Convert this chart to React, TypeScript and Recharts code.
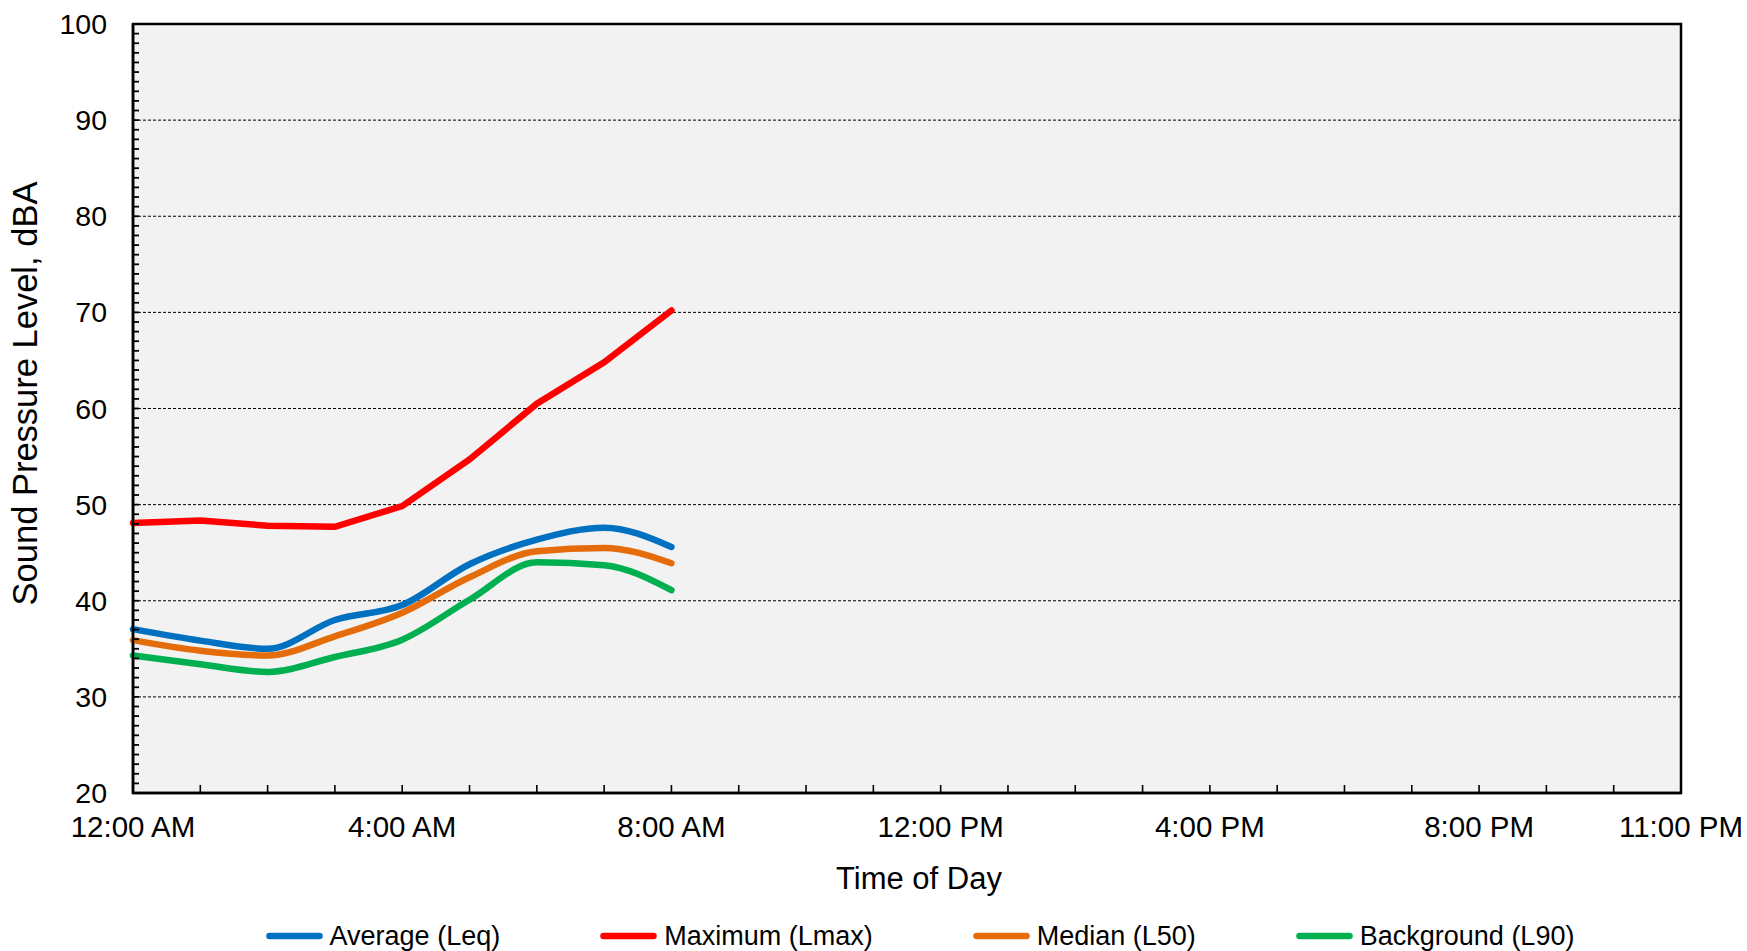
import React from 'react';
import { LineChart, Line, XAxis, YAxis, CartesianGrid, ReferenceLine, ReferenceArea, Legend } from 'recharts';

const hours = [0, 1, 2, 3, 4, 5, 6, 7, 8];
const leq = [37.05, 35.85, 35.0, 38.0, 39.55, 43.8, 46.35, 47.6, 45.6];
const lmax = [48.1, 48.35, 47.8, 47.7, 49.85, 54.7, 60.5, 64.8, 70.2];
const l50 = [35.9, 34.8, 34.3, 36.3, 38.75, 42.45, 45.15, 45.5, 43.9];
const l90 = [34.3, 33.4, 32.6, 34.15, 35.95, 40.1, 44.0, 43.7, 41.1];

const seriesNames = ['Average (Leq)', 'Maximum (Lmax)', 'Median (L50)', 'Background (L90)'];

const xLabelHours = [0, 4, 8, 12, 16, 20, 23];
const xLabelTexts = ['12:00 AM', '4:00 AM', '8:00 AM', '12:00 PM', '4:00 PM', '8:00 PM', '11:00 PM'];
const xTickHours = Array.from({ length: 24 }, (_, i) => i);
const yTicks = Array.from({ length: 81 }, (_, i) => 20 + i);
const yGridValues = [30, 40, 50, 60, 70, 80, 90];

const data = hours.map((h, i) => ({ h, leq: leq[i], lmax: lmax[i], l50: l50[i], l90: l90[i] }));

const FONT = '"Liberation Sans", Arial, sans-serif';

const XTick = (props: any) => {
  const { x, y, payload } = props;
  const idx = xLabelHours.indexOf(payload.value);
  return (
    <g>
      <line x1={x} y1={y} x2={x} y2={y - 8} stroke="#000" strokeWidth={1.6} />
      {idx >= 0 && (
        <text x={x} y={y + 44} textAnchor="middle" fontSize={29.5} fontFamily={FONT} fill="#000">
          {xLabelTexts[idx]}
        </text>
      )}
    </g>
  );
};

const YTick = (props: any) => {
  const { x, y, payload } = props;
  const v = payload.value;
  return (
    <g>
      {v > 20 && v < 100 && <line x1={x} y1={y} x2={x + 6} y2={y} stroke="#000" strokeWidth={1.8} />}
      {v % 10 === 0 && (
        <text x={x - 26} y={y} textAnchor="end" dominantBaseline="central" fontSize={28.5} fontFamily={FONT} fill="#000">
          {v}
        </text>
      )}
    </g>
  );
};

const renderLegend = (props: any) => {
  const payload = [...(props.payload || [])].sort(
    (a: any, b: any) => seriesNames.indexOf(a.value) - seriesNames.indexOf(b.value)
  );
  return (
    <div
      style={{
        display: 'flex',
        justifyContent: 'center',
        alignItems: 'center',
        paddingLeft: 93,
        gap: 100,
        height: 40,
        fontFamily: FONT,
        fontSize: 27,
        color: '#000',
      }}
    >
      {payload.map((p: any) => (
        <div key={p.value} style={{ display: 'flex', alignItems: 'center' }}>
          <svg width={57} height={8}>
            <line x1={3.5} y1={4} x2={53.5} y2={4} stroke={p.color} strokeWidth={6.5} strokeLinecap="round" />
          </svg>
          <span style={{ marginLeft: 7, whiteSpace: 'nowrap' }}>{p.value}</span>
        </div>
      ))}
    </div>
  );
};

const XTitle = (props: any) => {
  const vb = props.viewBox || {};
  return (
    <text x={vb.x + vb.width / 2 + 12} y={vb.y + 96} textAnchor="middle" fontSize={31} fontFamily={FONT} fill="#000">
      Time of Day
    </text>
  );
};

const YTitle = (props: any) => {
  const vb = props.viewBox || {};
  const cx = 25;
  const cy = vb.y + vb.height / 2 - 15;
  return (
    <text
      x={cx}
      y={cy}
      transform={`rotate(-90 ${cx} ${cy})`}
      textAnchor="middle"
      dominantBaseline="central"
      fontSize={34.5}
      fontFamily={FONT}
      fill="#000"
    >
      Sound Pressure Level, dBA
    </text>
  );
};

export default function App() {
  return (
    <div style={{ position: 'absolute', left: 0, top: 0, width: 1747, height: 951, background: '#fff' }}>
      <LineChart width={1747} height={951} data={data} margin={{ top: 24, right: 66, bottom: 0, left: 0 }}>
        <CartesianGrid horizontal={false} vertical={false} fill="#f2f2f2" />
        {yGridValues.map((v) => (
          <ReferenceLine key={v} y={v} stroke="#000" strokeWidth={1} strokeDasharray="3 2" />
        ))}
        <ReferenceArea x1={0} x2={23} y1={20} y2={100} fill="none" stroke="#000" strokeWidth={2.5} />
        <XAxis
          dataKey="h"
          type="number"
          domain={[0, 23]}
          ticks={xTickHours}
          interval={0}
          tick={<XTick />}
          tickLine={false}
          tickSize={0}
          tickMargin={0}
          height={158}
          axisLine={{ stroke: '#000', strokeWidth: 2.5 }}
          label={<XTitle />}
        />
        <YAxis
          type="number"
          domain={[20, 100]}
          ticks={yTicks}
          interval={0}
          tick={<YTick />}
          tickLine={false}
          tickSize={0}
          tickMargin={0}
          width={133}
          axisLine={{ stroke: '#000', strokeWidth: 2.5 }}
          label={<YTitle />}
        />
        <Legend
          layout="horizontal"
          verticalAlign="middle"
          align="center"
          content={renderLegend}
          wrapperStyle={{ top: 916, left: 0, width: 1747 }}
        />
        <Line name={seriesNames[0]} dataKey="leq" type="monotone" stroke="#0070c0" strokeWidth={6.5} strokeLinecap="round" dot={false} isAnimationActive={false} />
        <Line name={seriesNames[1]} dataKey="lmax" type="linear" stroke="#ff0000" strokeWidth={6.5} strokeLinecap="round" dot={false} isAnimationActive={false} />
        <Line name={seriesNames[2]} dataKey="l50" type="monotone" stroke="#e46c0a" strokeWidth={6.5} strokeLinecap="round" dot={false} isAnimationActive={false} />
        <Line name={seriesNames[3]} dataKey="l90" type="monotone" stroke="#00b050" strokeWidth={6.5} strokeLinecap="round" dot={false} isAnimationActive={false} />
      </LineChart>
    </div>
  );
}
